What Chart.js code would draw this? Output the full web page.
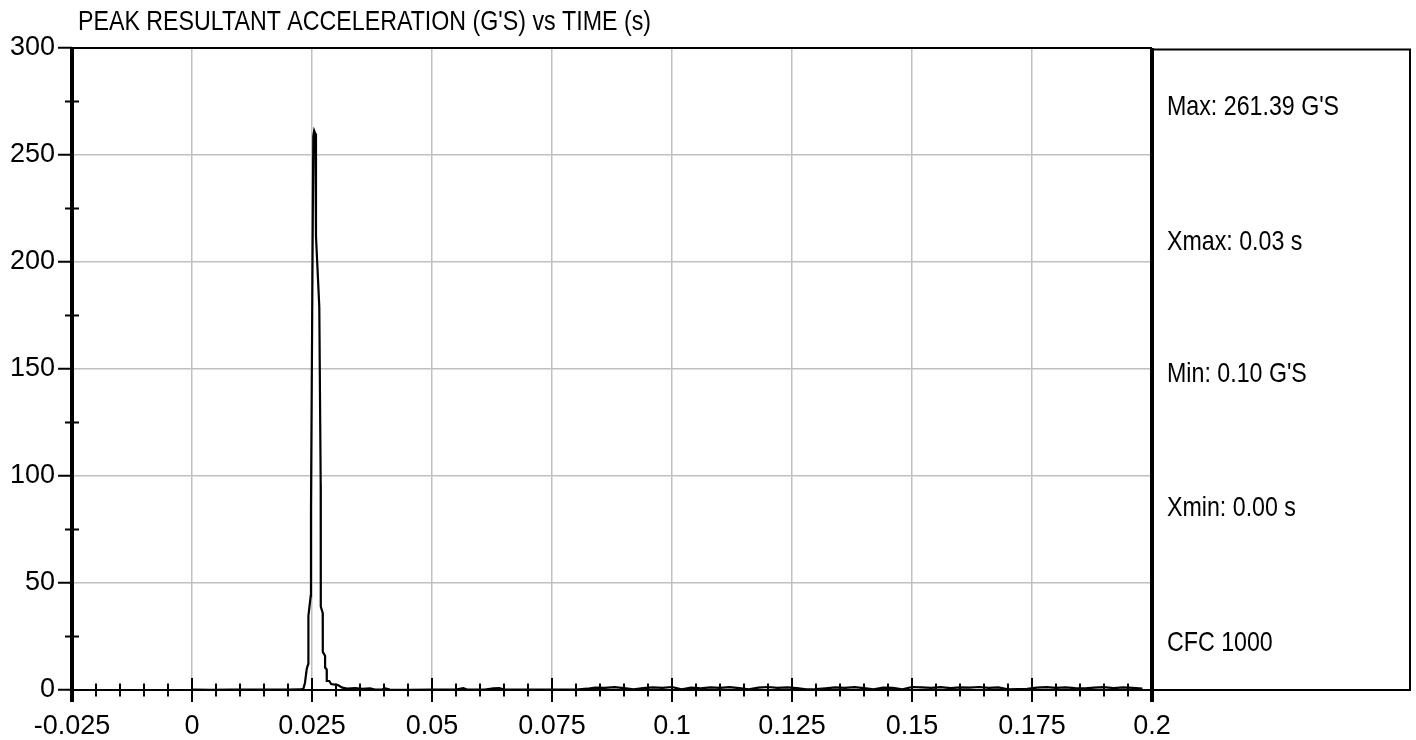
<!DOCTYPE html>
<html><head><meta charset="utf-8">
<script src="https://cdn.jsdelivr.net/npm/chart.js@4.4.1/dist/chart.umd.min.js"></script>
<style>html,body{margin:0;padding:0;background:#fff;}#wrap{width:1416px;height:740px;position:relative}</style>
</head><body><div id="wrap"><canvas id="c" width="1416" height="740"></canvas></div>
<script>
const titleText = "PEAK RESULTANT ACCELERATION (G'S) vs TIME (s)";
const statsLabels = ["Max: 261.39 G'S", "Xmax: 0.03 s", "Min: 0.10 G'S", "Xmin: 0.00 s", "CFC 1000"];
const xTickValues = [-0.025, 0, 0.025, 0.05, 0.075, 0.1, 0.125, 0.15, 0.175, 0.2];
const xTickLabels = ['-0.025', '0', '0.025', '0.05', '0.075', '0.1', '0.125', '0.15', '0.175', '0.2'];
const yTickValues = [0, 50, 100, 150, 200, 250, 300];
const yTickLabels = ['0', '50', '100', '150', '200', '250', '300'];

const timeS = [
  0, 0.004, 0.008, 0.012, 0.016, 0.020, 0.0225,
  0.02319, 0.02354, 0.02390, 0.02423, 0.02425, 0.02473, 0.02479, 0.02506, 0.02527, 0.02545,
  0.02568, 0.02583, 0.02652, 0.02681, 0.02683, 0.02723, 0.02725, 0.02771, 0.02773, 0.02806,
  0.02808, 0.02860, 0.0290, 0.0304, 0.0313, 0.0323, 0.0340, 0.0354, 0.0371, 0.0381,
  0.0395, 0.0403, 0.0412, 0.045, 0.050, 0.055, 0.0565, 0.0575, 0.061, 0.0628, 0.0640, 0.0650,
  0.070, 0.075, 0.080, 0.0823,
  0.084, 0.086, 0.088, 0.090, 0.092, 0.094, 0.096, 0.098, 0.100, 0.102, 0.104, 0.106,
  0.108, 0.110, 0.112, 0.114, 0.116, 0.118, 0.120, 0.122, 0.124, 0.126, 0.128, 0.130,
  0.132, 0.134, 0.136, 0.138, 0.140, 0.142, 0.144, 0.146, 0.148, 0.150, 0.152, 0.154,
  0.156, 0.158, 0.160, 0.162, 0.164, 0.166, 0.168, 0.170, 0.172, 0.174, 0.176, 0.178,
  0.180, 0.182, 0.184, 0.186, 0.188, 0.190, 0.192, 0.194, 0.196, 0.198
];
const accelG = [
  0.15, 0.12, 0.18, 0.14, 0.20, 0.16, 0.25,
  0.5, 3.4, 9.8, 12.3, 34.6, 44, 85, 183, 259, 261.39,
  260, 212, 179, 96, 39, 36, 17.8, 16, 10.5, 9.6,
  4.2, 4.2, 2.8, 2.3, 1.1, 0.7, 0.9, 0.5, 0.8, 0.15,
  0.2, 0.7, 0.15, 0.12, 0.15, 0.2, 0.9, 0.15, 0.2, 0.8, 0.9, 0.2,
  0.15, 0.18, 0.2, 0.6,
  1.1, 1.0, 1.3, 0.9, 0.3, 0.9, 1.2, 1.0, 1.4, 0.3, 1.1, 0.8,
  1.2, 1.0, 1.3, 0.9, 0.3, 1.1, 1.4, 1.0, 1.2, 0.9, 0.3, 0.4,
  0.8, 1.2, 1.0, 1.3, 0.9, 0.3, 1.1, 1.0, 0.3, 1.4, 1.2, 1.0,
  1.3, 0.9, 1.2, 1.1, 1.4, 1.0, 1.2, 0.3, 0.4, 0.5, 1.1, 1.3,
  1.0, 1.2, 0.9, 0.8, 1.1, 1.3, 0.9, 1.2, 1.0, 0.6
];

const FONT = '"Liberation Sans", Arial, sans-serif';
const NARROW = '"Liberation Sans Narrow", "Arial Narrow"';

function drawNarrow(ctx, text, x, y, size) {
  ctx.font = size + 'px ' + NARROW + ', monospace';
  const wN = ctx.measureText(text).width;
  ctx.font = size + 'px monospace';
  const wM = ctx.measureText(text).width;
  if (Math.abs(wN - wM) > 0.5) {
    ctx.font = size + 'px ' + NARROW + ', sans-serif';
    ctx.fillText(text, x, y);
  } else {
    ctx.save();
    ctx.font = size + 'px ' + FONT;
    ctx.translate(x, y);
    ctx.scale(0.82, 1);
    ctx.fillText(text, 0, 0);
    ctx.restore();
  }
}

const framePlugin = {
  id: 'frame',
  afterDraw(chart) {
    const ctx = chart.ctx;
    const xs = chart.scales.x, ys = chart.scales.y;
    const L = chart.chartArea.left, R = chart.chartArea.right;
    const T = chart.chartArea.top, B = chart.chartArea.bottom;
    ctx.save();
    ctx.strokeStyle = '#000';
    ctx.lineCap = 'butt';
    ctx.lineWidth = 2;
    ctx.beginPath(); ctx.moveTo(L, B); ctx.lineTo(R, B); ctx.stroke();
    ctx.beginPath(); ctx.moveTo(L, T); ctx.lineTo(R, T); ctx.stroke();
    xs.ticks.forEach(t => {
      const px = xs.getPixelForValue(t.value);
      ctx.beginPath(); ctx.moveTo(px, B - 12); ctx.lineTo(px, B + 12); ctx.stroke();
    });
    for (let i = 0; i <= 45; i++) {
      if (i % 5 === 0) continue;
      const v = xs.min + i * (xs.max - xs.min) / 45;
      const px = xs.getPixelForValue(v);
      ctx.beginPath(); ctx.moveTo(px, B - 6.5); ctx.lineTo(px, B + 6.5); ctx.stroke();
    }
    for (let i = 0; i < 12; i++) {
      if (i % 2 === 0) continue;
      const v = ys.min + i * (ys.max - ys.min) / 12;
      const py = ys.getPixelForValue(v);
      ctx.beginPath(); ctx.moveTo(L - 7, py); ctx.lineTo(L + 7, py); ctx.stroke();
    }
    ctx.lineWidth = 4;
    ctx.beginPath(); ctx.moveTo(L, T); ctx.lineTo(L, B + 12); ctx.stroke();
    ctx.beginPath(); ctx.moveTo(R, T); ctx.lineTo(R, B + 12); ctx.stroke();
    ctx.lineWidth = 2;
    ctx.beginPath();
    ctx.moveTo(R, T + 1.5); ctx.lineTo(1410, T + 1.5); ctx.lineTo(1410, B); ctx.lineTo(R, B);
    ctx.stroke();
    ctx.fillStyle = '#000';
    ctx.textBaseline = 'alphabetic';
    ctx.textAlign = 'left';
    drawNarrow(ctx, titleText, 78, 29.5, 28.3);
    const rowCenters = [105, 240, 372, 506, 641];
    statsLabels.forEach((s, i) => drawNarrow(ctx, s, 1167, rowCenters[i] + 10, 28.3));
    ctx.restore();
  }
};

new Chart(document.getElementById('c'), {
  type: 'line',
  data: {
    datasets: [{
      data: timeS.map((t, i) => ({ x: t, y: accelG[i] })),
      borderColor: '#000',
      borderWidth: 2.2,
      pointRadius: 0,
      tension: 0,
      fill: false
    }]
  },
  options: {
    responsive: false,
    animation: false,
    events: [],
    layout: { padding: { top: 48, right: 264, left: 0, bottom: 0 } },
    plugins: { legend: { display: false }, tooltip: { enabled: false }, title: { display: false } },
    scales: {
      x: {
        type: 'linear',
        min: -0.025, max: 0.2,
        afterFit: s => { s.height = 50; },
        afterBuildTicks: s => { s.ticks = xTickValues.map(v => ({ value: v })); },
        border: { display: false },
        grid: { color: '#c0c0c0', lineWidth: 1.5, drawTicks: false },
        ticks: {
          color: '#000', font: { family: FONT, size: 27 }, padding: 20, maxRotation: 0, autoSkip: false,
          callback: (v, i) => xTickLabels[i]
        }
      },
      y: {
        min: 0, max: 300,
        afterFit: s => { s.width = 72; },
        afterBuildTicks: s => { s.ticks = yTickValues.map(v => ({ value: v })); },
        border: { display: false },
        grid: { color: '#c0c0c0', lineWidth: 1.5, drawTicks: true, tickLength: 14, tickColor: '#000', tickWidth: 2 },
        ticks: {
          color: '#000', font: { family: FONT, size: 27 }, padding: 3,
          callback: (v, i) => yTickLabels[i]
        }
      }
    }
  },
  plugins: [framePlugin]
});
</script></body></html>
